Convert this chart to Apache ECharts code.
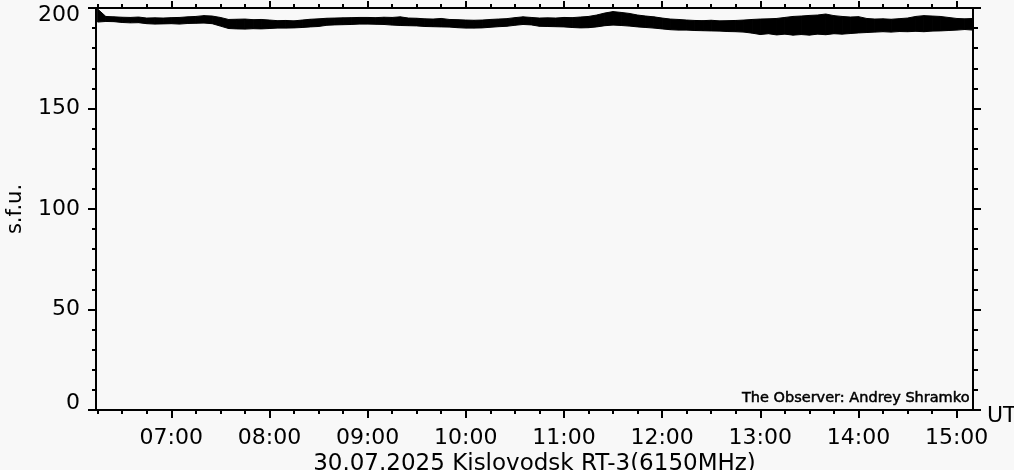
<!DOCTYPE html>
<html>
<head>
<meta charset="utf-8">
<script src="https://cdn.jsdelivr.net/npm/echarts@6/dist/echarts.min.js"></script>
<style>html,body{margin:0;padding:0;background:#f8f8f8;overflow:hidden;}#c{width:1014px;height:470px;}</style>
</head>
<body>
<div id="c"></div>
<script>
// Sample times (UT), 5-minute bins
const times = [
"06:15","06:20","06:25","06:30","06:35","06:40","06:45","06:50","06:55",
"07:00","07:05","07:10","07:15","07:20","07:25","07:30","07:35","07:40","07:45","07:50","07:55",
"08:00","08:05","08:10","08:15","08:20","08:25","08:30","08:35","08:40","08:45","08:50","08:55",
"09:00","09:05","09:10","09:15","09:20","09:25","09:30","09:35","09:40","09:45","09:50","09:55",
"10:00","10:05","10:10","10:15","10:20","10:25","10:30","10:35","10:40","10:45","10:50","10:55",
"11:00","11:05","11:10","11:15","11:20","11:25","11:30","11:35","11:40","11:45","11:50","11:55",
"12:00","12:05","12:10","12:15","12:20","12:25","12:30","12:35","12:40","12:45","12:50","12:55",
"13:00","13:05","13:10","13:15","13:20","13:25","13:30","13:35","13:40","13:45","13:50","13:55",
"14:00","14:05","14:10","14:15","14:20","14:25","14:30","14:35","14:40","14:45","14:50","14:55",
"15:00","15:05","15:10"
];
// Upper envelope of the noisy flux trace (s.f.u.)
const fluxHigh = [
199.5,195.8,195.6,195.4,195.3,195.5,195.0,195.1,195.0,
195.2,195.3,195.6,195.8,196.2,196.0,195.3,194.3,194.4,194.5,194.2,194.3,
194.0,193.7,193.8,193.6,194.0,194.4,194.6,194.9,195.0,195.1,195.2,195.3,
195.3,195.2,195.4,195.3,195.6,195.0,194.9,194.6,194.5,194.8,194.3,194.2,
194.0,193.9,194.0,194.3,194.5,194.7,195.2,195.6,195.3,195.0,195.1,195.0,
195.3,195.2,195.5,195.8,196.5,197.5,198.2,197.8,197.3,196.5,196.0,195.6,
195.0,194.5,194.3,194.0,193.8,193.7,193.9,193.6,193.7,193.8,194.0,194.3,
194.5,194.6,194.8,195.3,195.8,196.0,196.3,196.5,197.0,196.2,195.8,195.5,
195.7,194.8,194.5,194.6,194.4,194.7,195.0,195.8,196.2,196.0,195.8,195.3,
194.8,194.6,194.8
];
// Lower envelope of the noisy flux trace (s.f.u.)
const fluxLow = [
193.0,193.3,193.2,192.8,192.6,192.7,192.2,192.0,192.1,
192.2,192.0,192.3,192.4,192.5,192.2,191.0,189.8,189.6,189.5,189.7,189.6,
189.8,190.0,190.0,190.1,190.3,190.6,190.8,191.4,191.6,191.7,191.8,192.0,
192.0,191.9,191.8,191.5,191.3,191.2,191.1,190.8,190.7,190.6,190.5,190.2,
190.0,190.0,190.1,190.4,190.7,190.9,191.4,191.8,191.6,190.9,190.8,190.7,
190.6,190.3,190.1,190.2,190.6,191.2,191.5,191.3,191.0,190.6,190.3,190.0,
189.6,189.2,189.0,189.0,188.8,188.7,188.6,188.5,188.3,188.2,188.0,187.5,
186.8,187.2,186.6,187.0,186.5,186.8,186.5,187.0,186.7,187.2,187.0,187.3,
187.6,187.8,188.0,188.2,188.0,188.3,188.2,188.4,188.2,188.5,188.6,188.8,
189.0,189.3,189.0
];
const majorTimes = ["07:00","08:00","09:00","10:00","11:00","12:00","13:00","14:00","15:00"];
const minorTimes = ["06:15","06:30","06:45","07:15","07:30","07:45","08:15","08:30","08:45","09:15","09:30","09:45",
"10:15","10:30","10:45","11:15","11:30","11:45","12:15","12:30","12:45","13:15","13:30","13:45",
"14:15","14:30","14:45","15:00"];
const xStart = "06:14", xEnd = "15:10";
const titleText = "30.07.2025 Kislovodsk RT-3(6150MHz)";
const observerText = "The Observer: Andrey Shramko";

const toMin = s => { const p = s.split(':'); return (+p[0]) * 60 + (+p[1]); };
const fmt = v => { const h = Math.floor(v / 60), m = Math.round(v % 60); return (h < 10 ? '0' : '') + h + ':' + (m < 10 ? '0' : '') + m; };
const tMin = times.map(toMin);
const majorV = majorTimes.map(toMin);
const minorV = minorTimes.map(toMin);
const bandData = tMin.map((t, i) => [t, fluxLow[i], fluxHigh[i]]);

const FONT = 'DejaVu Sans';
const axisLine = { show: true, lineStyle: { color: '#000', width: 2 } };

function xAx(pos, major, extra) {
  return Object.assign({
    type: 'value', position: pos, min: toMin(xStart), max: toMin(xEnd),
    axisLine: axisLine, splitLine: { show: false },
    axisTick: { show: true, inside: false, customValues: major ? majorV : minorV,
      length: major ? 8 : 4, lineStyle: { color: '#000', width: 2 } },
    axisLabel: { show: false }
  }, extra || {});
}

const chart = echarts.init(document.getElementById('c'), null, { renderer: 'canvas' });
chart.setOption({
  backgroundColor: '#f8f8f8',
  animation: false,
  title: {
    text: observerText, right: 44, bottom: 64, z: 10, padding: 0,
    textStyle: { fontFamily: FONT, fontSize: 14.5, fontWeight: 'normal', color: '#000',
      textBorderColor: '#000', textBorderWidth: 0.5 }
  },
  grid: { left: 96, right: 41, top: 8, bottom: 60, containLabel: false, outerBoundsMode: 'none' },
  xAxis: [
    xAx('bottom', true, {
      axisLabel: { show: true, customValues: majorV, formatter: v => fmt(v),
        fontFamily: FONT, fontSize: 22, color: '#000', margin: 17 },
      name: 'UT', nameLocation: 'end', nameGap: 14,
      nameTextStyle: { fontFamily: FONT, fontSize: 22, color: '#000', verticalAlign: 'top', lineHeight: 12 }
    }),
    xAx('bottom', false, {
      name: titleText, nameLocation: 'middle', nameGap: 43,
      nameTextStyle: { fontFamily: FONT, fontSize: 23, color: '#000' }
    }),
    xAx('top', true, { axisTick: { show: true, customValues: majorV, length: 7, lineStyle: { color: '#000', width: 2 } } }),
    xAx('top', false)
  ],
  yAxis: [
    {
      type: 'value', position: 'left', min: 0, max: 200, interval: 50,
      axisLine: axisLine, splitLine: { show: false },
      axisTick: { show: true, length: 8, lineStyle: { color: '#000', width: 2 } },
      minorTick: { show: true, splitNumber: 5, length: 4, lineStyle: { color: '#000', width: 2 } },
      axisLabel: { show: true, fontFamily: FONT, fontSize: 22, color: '#000', margin: 16, lineHeight: 14,
        verticalAlignMinLabel: 'bottom', verticalAlignMaxLabel: 'top' },
      name: 's.f.u.', nameLocation: 'middle', nameGap: 70,
      nameTextStyle: { fontFamily: FONT, fontSize: 21, color: '#000' }
    },
    {
      type: 'value', position: 'right', min: 0, max: 200, interval: 50,
      axisLine: axisLine, splitLine: { show: false },
      axisTick: { show: true, length: 8, lineStyle: { color: '#000', width: 2 } },
      minorTick: { show: true, splitNumber: 5, length: 5, lineStyle: { color: '#000', width: 2 } },
      axisLabel: { show: false }
    }
  ],
  series: [
    {
      type: 'custom', xAxisIndex: 0, yAxisIndex: 0,
      encode: { x: 0, y: [1, 2] },
      data: bandData,
      renderItem: function (params, api) {
        const i = params.dataIndex;
        if (i >= bandData.length - 1) return null;
        const a = bandData[i], b = bandData[i + 1];
        const p1 = api.coord([a[0], a[2]]), p2 = api.coord([b[0], b[2]]);
        const p3 = api.coord([b[0], b[1]]), p4 = api.coord([a[0], a[1]]);
        return {
          type: 'polygon',
          shape: { points: [p1, p2, p3, p4] },
          style: { fill: '#000', stroke: '#000', lineWidth: 1 }
        };
      }
    }
  ]
});
</script>
</body>
</html>
